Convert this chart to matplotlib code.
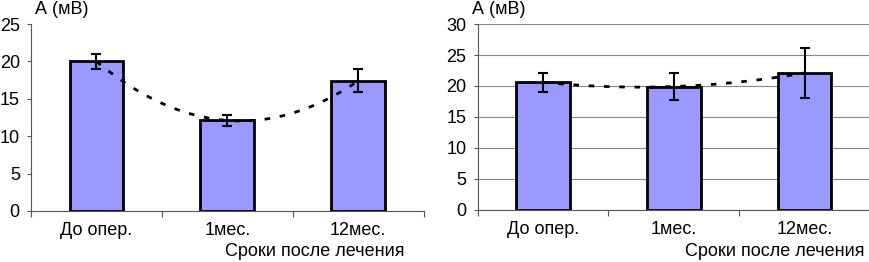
import numpy as np
import matplotlib
matplotlib.use("Agg")
import matplotlib.pyplot as plt

plt.rcParams['font.family'] = ['Liberation Sans', 'DejaVu Sans']

categories = ["До опер.", "1мес.", "12мес."]
left_values = [20.0, 12.1, 17.4]
left_errors = [1.05, 0.7, 1.55]
right_values = [20.6, 19.9, 22.1]
right_errors = [1.5, 2.2, 4.1]
left_yticks = [0, 5, 10, 15, 20, 25]
right_yticks = [0, 5, 10, 15, 20, 25, 30]
ylabel_text = "А (мВ)"
xlabel_text = "Сроки после лечения"

fig = plt.figure(figsize=(8.7, 2.62), dpi=100)
ax1 = fig.add_axes([0.0356, 0.195, 0.4514, 0.713])
ax2 = fig.add_axes([0.549, 0.2, 0.451, 0.708])

def draw(ax, values, errors, yticks, grid):
    x = np.arange(len(categories))
    ax.bar(x, values, width=0.41, color="#9999ff", edgecolor="black", linewidth=2, zorder=2)
    ax.errorbar(x, values, yerr=errors, fmt="none", ecolor="black", elinewidth=1.5,
                capsize=3.3, capthick=1.5, zorder=4)
    coef = np.polyfit(x, values, 2)
    xs = np.linspace(0, len(categories) - 1, 200)
    ax.plot(xs, np.polyval(coef, xs), color="black", linewidth=2,
            linestyle=(0, (2, 3.5)), zorder=3)
    ax.set_xlim(-0.5, len(categories) - 0.5)
    ax.set_ylim(yticks[0], yticks[-1])
    ax.set_yticks(yticks)
    ax.set_yticklabels([str(t) for t in yticks], fontsize=13)
    ax.set_xticks(np.arange(len(categories) + 1) - 0.5)
    ax.set_xticklabels([])
    ax.set_xticks(x, minor=True)
    ax.set_xticklabels(categories, minor=True, fontsize=13)
    ax.tick_params(axis="x", which="major", length=4, width=0.8, color="#555555")
    ax.tick_params(axis="x", which="minor", length=0, pad=8)
    ax.tick_params(axis="y", length=3, width=0.8, color="#555555", pad=5)
    for s in ["top", "right"]:
        ax.spines[s].set_visible(False)
    for s in ["left", "bottom"]:
        ax.spines[s].set_color("#555555")
        ax.spines[s].set_linewidth(0.8)
    if grid:
        ax.yaxis.grid(True, color="#888888", linewidth=0.8, zorder=0)
        ax.set_axisbelow(True)
    ax.patch.set_alpha(0)

draw(ax1, left_values, left_errors, left_yticks, False)
draw(ax2, right_values, right_errors, right_yticks, True)

fig.text(35 / 870, 1 - 9 / 262, ylabel_text, fontsize=13, ha="left", va="center")
fig.text(472 / 870, 1 - 9 / 262, ylabel_text, fontsize=13, ha="left", va="center")
fig.text(405 / 870, 1 - 252 / 262, xlabel_text, fontsize=13, ha="right", va="center")
fig.text(865 / 870, 1 - 252 / 262, xlabel_text, fontsize=13, ha="right", va="center")

fig.savefig("out.png", dpi=100)
